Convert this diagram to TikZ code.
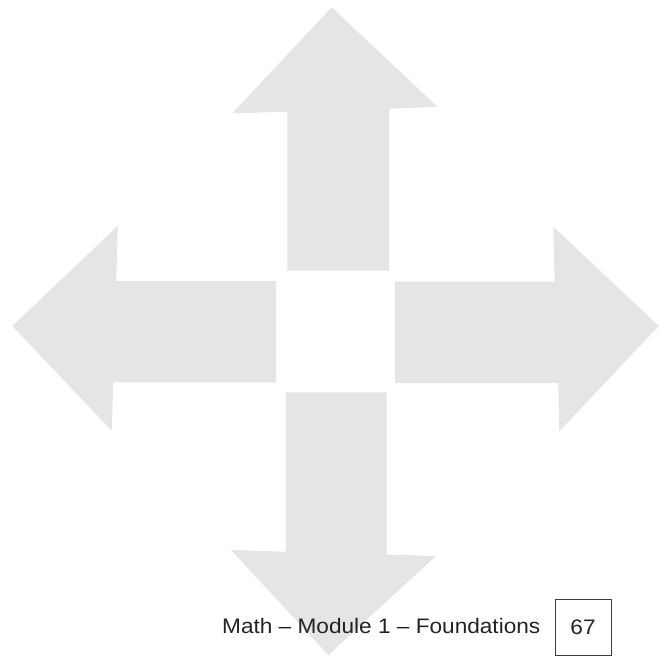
\documentclass[tikz,border=0pt]{standalone}
\usepackage{fontspec}
\setmainfont[FakeStretch=1.077]{Liberation Sans}
\definecolor{arrowgray}{RGB}{229,229,229}
\definecolor{boxline}{RGB}{60,60,60}
\definecolor{textcol}{RGB}{35,35,35}
\begin{document}
\begin{tikzpicture}[x=1pt,y=-1pt,
  bigarrow/.style={fill=arrowgray,draw=none},
  footer/.style={font=\fontsize{21}{25}\selectfont,text=textcol,inner sep=0pt},
  pagebox/.style={draw=boxline,line width=0.9pt,minimum width=56pt,minimum height=56pt,inner sep=0pt,font=\fontsize{21}{25}\selectfont,text=textcol}]
\useasboundingbox (0,0) rectangle (661,656);
% up arrow
\fill[bigarrow] (232.3,113.3) -- (331.7,7.3) -- (437.3,106.7) -- (389,108.7) -- (389,270.7) -- (287.3,270.7) -- (287.3,111.7) -- cycle;
% left arrow
\fill[bigarrow] (12.3,326) -- (117.7,226) -- (116.3,281) -- (276,281) -- (276,382.3) -- (113.3,382.3) -- (111.7,430.7) -- cycle;
% right arrow
\fill[bigarrow] (395,281.7) -- (554.7,281.7) -- (553.3,226.7) -- (658.7,326) -- (559.3,431.3) -- (558.3,383) -- (395,383) -- cycle;
% down arrow
\fill[bigarrow] (286,392.3) -- (386.7,392.3) -- (386.7,554.7) -- (436,556) -- (328.3,655) -- (231,550) -- (286,551.7) -- cycle;
% footer
\node[footer,anchor=base west] (footer) at (222,633) {Math – Module 1 – Foundations};
\node[pagebox] (page) at (583,627) {67};
\end{tikzpicture}
\end{document}
